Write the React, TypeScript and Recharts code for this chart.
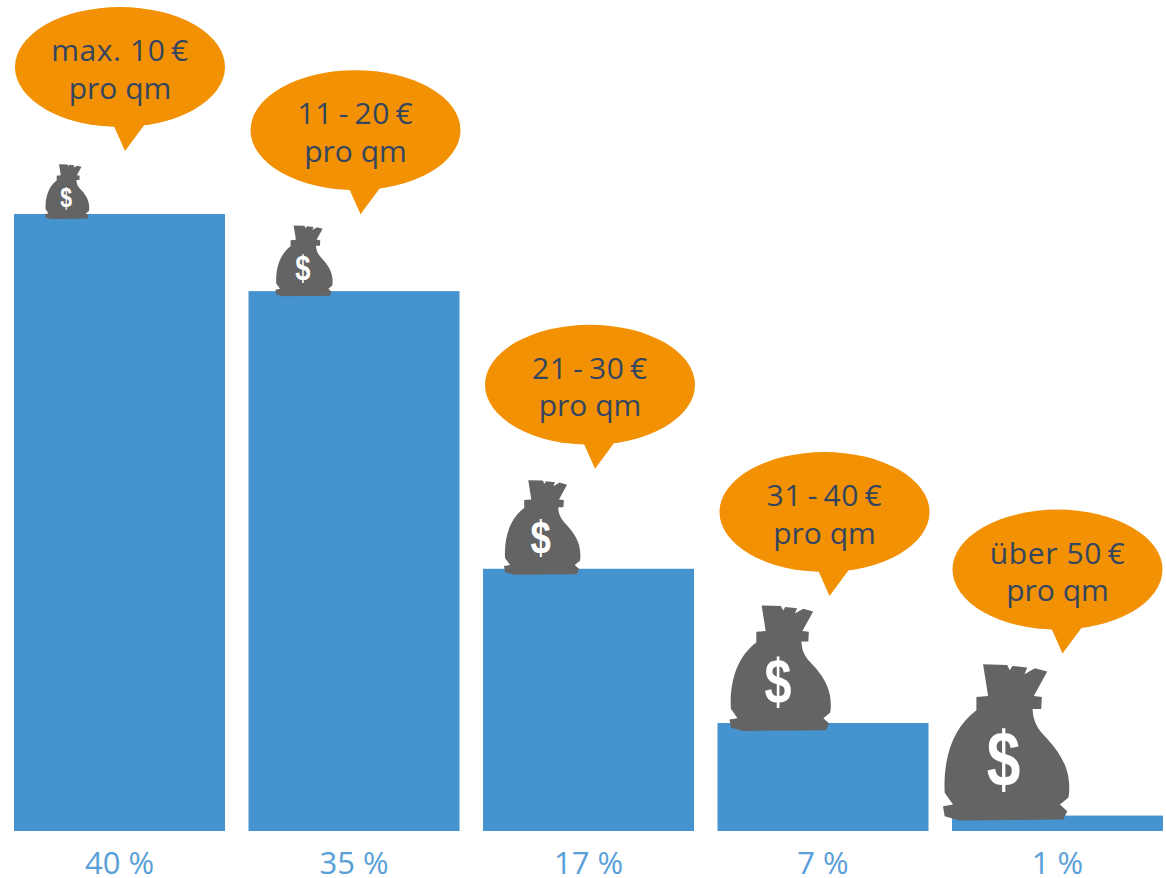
import React from "react";
import { BarChart, Bar, XAxis, YAxis } from "recharts";

// Share of respondents per price bracket
const shares = [40, 35, 17, 7, 1];
const priceLines = ["max. 10\u2009€", "11\u2009-\u200920\u2009€", "21\u2009-\u200930\u2009€", "31\u2009-\u200940\u2009€", "über 50\u2009€"];
const unitLine = "pro qm";

// Vertical distance from each bar top to its bubble's pointer, and sideways nudge
const bubbleLift = [63, 77, 100, 127, 162];
const bubbleNudge = [-1, 0, 0, 0, -1.5];
// Money bag size and placement relative to each bar
const bagHeight = [55, 71, 95, 126, 157];
const bagLeft = [31, 27, 21, 12, -9];
const bagSink = [5, 5, 6, 8, 5];

const rows = shares.map((share, i) => ({ bracket: priceLines[i], share }));

const BLUE = "#4594d0";
const ORANGE = "#f29104";
const GREY = "#646464";
const INK = "#34465f";
const FONT = "'Open Sans', sans-serif";

// Bag outline on a 378 x 470 grid
const BAG_PATH =
  "M120 2 L192 4 L200 20 L208 7 L252 12 L244 32 L275 14 L312 24 L272 97 L296 100 L294 136 L268 136 " +
  "C270 170 280 190 300 212 C340 255 378 300 378 372 C378 385 377 395 375 402 L350 422 L372 442 L360 467 " +
  "L50 470 L5 457 L0 427 L30 422 L5 387 C0 282 30 192 100 140 L100 100 L135 97 Z";

const Bubble = ({ tipX, tipY, index }: { tipX: number; tipY: number; index: number }) => {
  const cx = tipX - 5;
  const cy = tipY - 84;
  return (
    <g>
      <ellipse cx={cx} cy={cy} rx={105} ry={60} fill={ORANGE} />
      <path d={`M${tipX - 12} ${tipY - 27} L${tipX} ${tipY} L${tipX + 20} ${tipY - 27} Z`} fill={ORANGE} />
      <text x={cx} y={cy - 6} textAnchor="middle" fontFamily={FONT} fontSize={30} letterSpacing={0.6} fill={INK}>
        {priceLines[index]}
      </text>
      <text x={cx} y={cy + 31.5} textAnchor="middle" fontFamily={FONT} fontSize={30} fill={INK}>
        {unitLine}
      </text>
    </g>
  );
};

const MoneyBag = ({ x, bottom, height }: { x: number; bottom: number; height: number }) => {
  const k = height / 470;
  return (
    <g transform={`translate(${x} ${bottom - height}) scale(${k})`}>
      <path d={BAG_PATH} fill={GREY} />
      {/* The dollar sign is drawn condensed, as on the printed bag icon */}
      <g transform="translate(181 365) scale(0.78 1)">
        <text x={0} y={0} textAnchor="middle" fontFamily="'Liberation Sans', sans-serif" fontWeight={700} fontSize={232} fill="#fff">
          $
        </text>
      </g>
    </g>
  );
};

const PriceBar = (props: any) => {
  const { x, y, width, height, index } = props;
  return (
    <g>
      <rect x={x} y={y} width={width} height={height} fill={BLUE} />
      <MoneyBag x={x + bagLeft[index]} bottom={y + bagSink[index]} height={bagHeight[index]} />
      <Bubble tipX={x + 112 + bubbleNudge[index]} tipY={y - bubbleLift[index]} index={index} />
    </g>
  );
};

export default function App() {
  return (
    <div style={{ position: "absolute", left: 0, top: 0, width: 1166, height: 878, overflow: "hidden", background: "#fff" }}>
      <BarChart
        width={1176}
        height={878}
        data={rows}
        margin={{ top: 214, right: 1.25, bottom: 0, left: 2.25 }}
        barCategoryGap={11.75}
      >
        <XAxis
          dataKey="share"
          axisLine={false}
          tickLine={false}
          height={47}
          interval={0}
          tickFormatter={(v: number) => `${v} %`}
          tick={{ fill: "#5aa0d8", fontFamily: FONT, fontSize: 31, dy: 13 }}
        />
        <YAxis hide domain={[0, 40]} />
        <Bar dataKey="share" isAnimationActive={false} shape={PriceBar} />
      </BarChart>
    </div>
  );
}
